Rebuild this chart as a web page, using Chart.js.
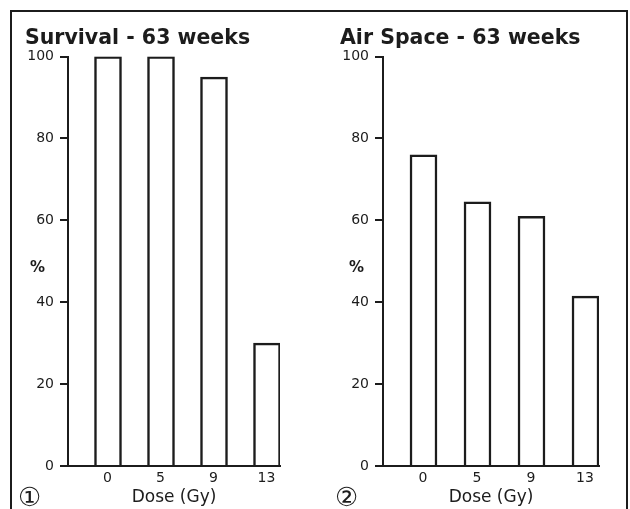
<!DOCTYPE html>
<html>
<head>
<meta charset="utf-8">
<script src="https://cdn.jsdelivr.net/npm/chart.js@4/dist/chart.umd.min.js"></script>
<style>
  body { margin: 0; background: #fff; font-family: "DejaVu Sans", sans-serif; color: #1c1c1c; }
  #page { position: relative; width: 630px; height: 509px; overflow: hidden; }
  #frame { position: absolute; left: 10px; top: 10px; width: 618px; height: 520px;
           border: 2px solid #1c1c1c; box-sizing: border-box; }
  .box { position: absolute; top: 0; width: 315px; height: 509px; }
  .pct { position: absolute; font-weight: bold; font-size: 15px; top: 258px; }
  .num { position: absolute; font-family: "DejaVu Sans", "Noto Sans CJK SC", sans-serif; font-size: 26px; top: 484px; line-height: 1; }
</style>
</head>
<body>
<div id="page">
  <div id="frame"></div>
  <div class="box" style="left:0"><canvas id="survivalChart"></canvas></div>
  <div class="box" style="left:315px"><canvas id="airChart"></canvas></div>
  <div class="pct" style="left:30px">%</div>
  <div class="pct" style="left:349px">%</div>
  <div class="num" style="left:18px">①</div>
  <div class="num" style="left:335px">②</div>
</div>
<script>
const doses = ["0", "5", "9", "13"];
const survival = [100, 100, 95, 30];
const airSpace = [76, 64.5, 61, 41.5];
const yTicks = [0, 20, 40, 60, 80, 100];

const ink = "#1c1c1c";

function makeChart(id, title, values, rightPad) {
    const ctx = document.getElementById(id).getContext("2d");
    return new Chart(ctx, {
        type: "bar",
        data: {
            labels: doses,
            datasets: [
                // empty slot so each bar sits in the right half of its category
                { data: doses.map(() => null), backgroundColor: "transparent", borderWidth: 0 },
                {
                    data: values,
                    backgroundColor: "#fff",
                    borderColor: ink,
                    borderWidth: 2.5,
                    barThickness: 27,
                }
            ]
        },
        options: {
            responsive: true,
            maintainAspectRatio: false,
            animation: false,
            barPercentage: 1,
            categoryPercentage: 1,
            layout: { padding: { left: 25, right: rightPad, top: 26, bottom: 0 } },
            plugins: {
                legend: { display: false },
                tooltip: { enabled: false },
                title: {
                    display: true,
                    text: title,
                    align: "start",
                    color: ink,
                    font: { family: "DejaVu Sans", size: 20.5, weight: "bold" },
                    padding: { top: 0, bottom: 6 }
                }
            },
            scales: {
                x: {
                    afterFit: s => { s.height = 43; },
                    grid: { display: false, drawTicks: false },
                    border: { display: true, color: ink, width: 2 },
                    ticks: { color: ink, font: { family: "DejaVu Sans", size: 14 }, padding: 4, labelOffset: 13 },
                    title: {
                        display: true,
                        text: "Dose (Gy)",
                        color: ink,
                        font: { family: "DejaVu Sans", size: 17 },
                        padding: { top: 0, bottom: 1 }
                    }
                },
                y: {
                    min: 0,
                    max: 100,
                    afterBuildTicks: s => { s.ticks = yTicks.map(v => ({ value: v })); },
                    afterFit: s => { s.width = 43; },
                    grid: { drawOnChartArea: false, drawTicks: true, tickLength: 8, color: ink, lineWidth: 2 },
                    border: { display: true, color: ink, width: 2 },
                    ticks: { color: ink, font: { family: "DejaVu Sans", size: 14 }, padding: 6 }
                }
            }
        }
    });
}

makeChart("survivalChart", "Survival - 63 weeks", survival, 35);
makeChart("airChart", "Air Space - 63 weeks", airSpace, 31);
</script>
</body>
</html>
